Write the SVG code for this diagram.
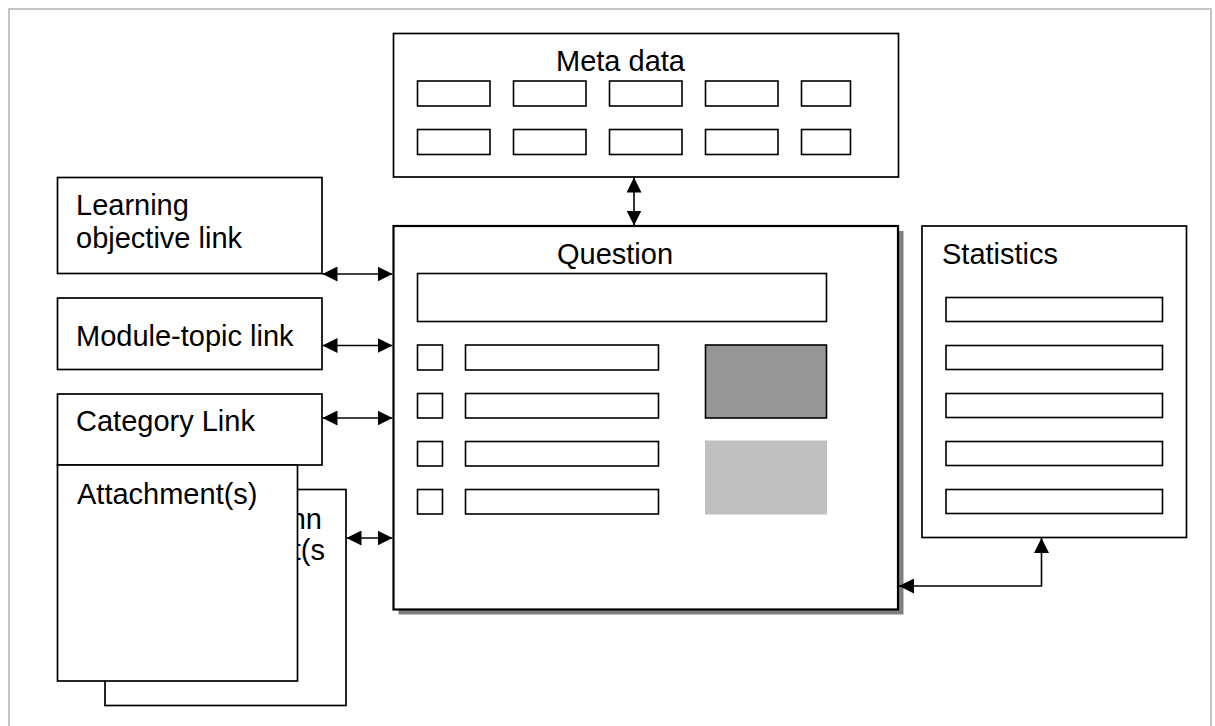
<svg xmlns="http://www.w3.org/2000/svg" width="1215" height="726" viewBox="0 0 1215 726">
  <style>
    .box { fill: #ffffff; stroke: #000000; stroke-width: 1.7; }
    .main { fill: #ffffff; stroke: #000000; stroke-width: 2.2; }
    .field { fill: #ffffff; stroke: #000000; stroke-width: 1.6; }
    .label { font-family: "Liberation Sans", Arial, sans-serif; font-size: 29px; fill: #000000; }
    .link { fill: none; stroke: #000000; stroke-width: 1.6; }
  </style>
  <defs>
    <marker id="head" viewBox="0 0 15 15" refX="15" refY="7.5" markerWidth="15" markerHeight="15" markerUnits="userSpaceOnUse" orient="auto-start-reverse">
      <path d="M0,0 L15,7.5 L0,15 Z" fill="#000000"/>
    </marker>
  </defs>

  <rect width="1215" height="726" fill="#ffffff"/>
  <!-- page frame -->
  <path d="M9,740 V9 H1211 V740" fill="none" stroke="#c4c4c4" stroke-width="2"/>

  <g id="meta-data">
    <rect class="box" x="393.5" y="33.5" width="505" height="143.5"/>
    <text class="label" x="556" y="71">Meta data</text>
    <rect class="field" x="417.5" y="81" width="72.5" height="25"/>
    <rect class="field" x="513.5" y="81" width="72.5" height="25"/>
    <rect class="field" x="609.5" y="81" width="72.5" height="25"/>
    <rect class="field" x="705.5" y="81" width="72.5" height="25"/>
    <rect class="field" x="801.5" y="81" width="49" height="25"/>
    <rect class="field" x="417.5" y="129.5" width="72.5" height="25"/>
    <rect class="field" x="513.5" y="129.5" width="72.5" height="25"/>
    <rect class="field" x="609.5" y="129.5" width="72.5" height="25"/>
    <rect class="field" x="705.5" y="129.5" width="72.5" height="25"/>
    <rect class="field" x="801.5" y="129.5" width="49" height="25"/>
  </g>

  <g id="learning-objective-link">
    <rect class="box" x="57.5" y="177.5" width="264.5" height="96"/>
    <text class="label" x="76" y="215">Learning</text>
    <text class="label" x="76" y="248">objective link</text>
  </g>

  <g id="module-topic-link">
    <rect class="box" x="57.5" y="298" width="264.5" height="71.5"/>
    <text class="label" x="76" y="346">Module-topic link</text>
  </g>

  <g id="category-link">
    <rect class="box" x="57.5" y="394" width="264.5" height="71"/>
    <text class="label" x="76" y="431">Category Link</text>
  </g>

  <g id="attachments-back">
    <rect class="box" x="105" y="489.5" width="241" height="216"/>
    <text class="label" x="322" y="528.5" text-anchor="end">nn</text>
    <text class="label" x="325" y="560" text-anchor="end">t(s</text>
  </g>

  <g id="attachments">
    <rect class="box" x="57.5" y="465" width="240" height="216"/>
    <text class="label" x="77" y="503.5">Attachment(s)</text>
  </g>

  <g id="question">
    <rect x="398.5" y="231" width="505" height="383.5" fill="#808080"/>
    <rect class="main" x="393.5" y="226" width="504.5" height="383.5"/>
    <text class="label" x="557" y="263.5">Question</text>
    <rect class="field" x="417.5" y="273.5" width="409" height="48"/>
    <rect class="field" x="417.5" y="345" width="25" height="25"/>
    <rect class="field" x="417.5" y="393.5" width="25" height="24.5"/>
    <rect class="field" x="417.5" y="441.5" width="25" height="24.5"/>
    <rect class="field" x="417.5" y="489.5" width="25" height="24.5"/>
    <rect class="field" x="465.5" y="345" width="193" height="25"/>
    <rect class="field" x="465.5" y="393.5" width="193" height="24.5"/>
    <rect class="field" x="465.5" y="441.5" width="193" height="24.5"/>
    <rect class="field" x="465.5" y="489.5" width="193" height="24.5"/>
    <rect x="705.5" y="345" width="121" height="73" fill="#969696" stroke="#000000" stroke-width="1.6"/>
    <rect x="705" y="440.5" width="122" height="74" fill="#c0c0c0"/>
  </g>

  <g id="statistics">
    <rect class="box" x="922" y="226" width="264.5" height="311.5"/>
    <text class="label" x="942" y="263.5">Statistics</text>
    <rect class="field" x="946" y="297.5" width="216.5" height="24"/>
    <rect class="field" x="946" y="345.5" width="216.5" height="24"/>
    <rect class="field" x="946" y="393.5" width="216.5" height="24"/>
    <rect class="field" x="946" y="441.5" width="216.5" height="24"/>
    <rect class="field" x="946" y="489.5" width="216.5" height="24"/>
  </g>

  <g id="connectors">
    <path class="link" d="M634,177.5 V225.5" marker-start="url(#head)" marker-end="url(#head)"/>
    <path class="link" d="M322.5,274 H392.5" marker-start="url(#head)" marker-end="url(#head)"/>
    <path class="link" d="M322.5,345.5 H392.5" marker-start="url(#head)" marker-end="url(#head)"/>
    <path class="link" d="M322.5,418 H392.5" marker-start="url(#head)" marker-end="url(#head)"/>
    <path class="link" d="M346.5,538 H392.5" marker-start="url(#head)" marker-end="url(#head)"/>
    <path class="link" d="M899,586 H1041.5 V538" marker-start="url(#head)" marker-end="url(#head)"/>
  </g>
</svg>
